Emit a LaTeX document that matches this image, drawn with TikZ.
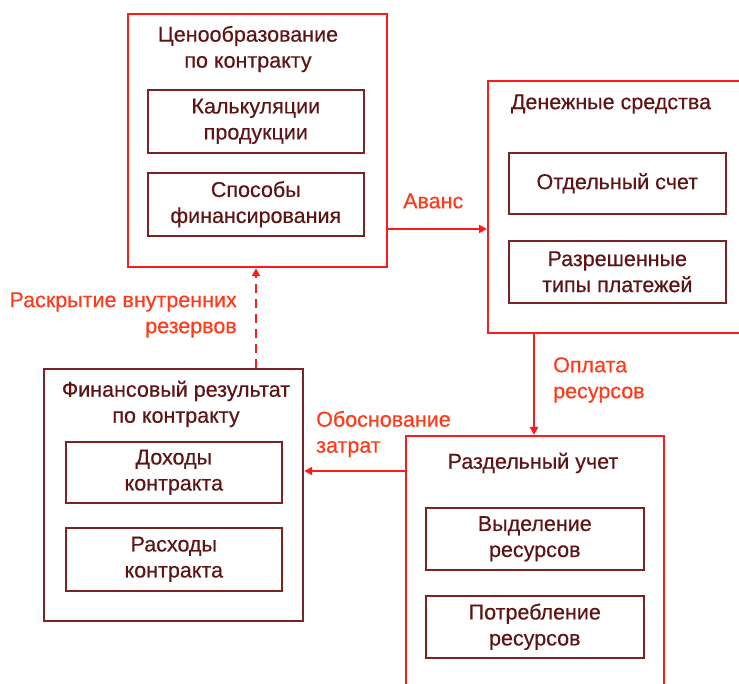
\documentclass[tikz,border=0pt]{standalone}
\usepackage{fontspec}
\setmainfont{Liberation Sans}[FakeBold=0.35]
\usetikzlibrary{arrows.meta}
\definecolor{boxred}{HTML}{FF1A1A}
\definecolor{darkbox}{HTML}{7A2424}
\definecolor{darktext}{HTML}{5E1414}
\definecolor{lblred}{HTML}{FF3A1A}
\tikzset{
  every node/.style={font=\fontsize{21.5}{26}\selectfont},
  redbox/.style={draw=boxred, line width=2.2pt, anchor=north west, inner sep=0pt},
  outerdark/.style={draw=darkbox, line width=2.2pt, anchor=north west, inner sep=0pt},
  innerbox/.style={draw=darkbox, line width=1.6pt, anchor=north west, inner sep=0pt, text=darktext, align=center},
  title/.style={text=darktext, align=center, inner sep=0pt},
  lbl/.style={text=lblred, inner sep=0pt},
  conn/.style={draw=boxred, line width=2.4pt, -{Triangle[length=8pt,width=8pt]}},
  dconn/.style={conn, dash pattern=on 9pt off 6pt}
}
\begin{document}
\begin{tikzpicture}[x=1pt,y=-1pt]
\useasboundingbox[fill=white] (0,0) rectangle (739,684);
% Box A
\node[redbox, minimum width=259pt, minimum height=253pt] (A) at (127,13) {};
\node[title] (At) at (248,49) {Ценообразование\\по контракту};
\node[innerbox, minimum width=216pt, minimum height=63pt] (A1) at (147,89) {};
\node[title] (A1t) at (A1.center) {Калькуляции\\продукции};
\node[innerbox, minimum width=216pt, minimum height=63pt] (A2) at (147,172) {};
\node[title] (A2t) at (A2.center) {Способы\\финансирования};
% Box B
\node[redbox, minimum width=270pt, minimum height=252pt] (B) at (487,80) {};
\node[title] (Bt) at (611,104) {Денежные средства};
\node[innerbox, minimum width=217pt, minimum height=61pt] (B1) at (508,152) {};
\node[title] (B1t) at (B1.center) {Отдельный счет};
\node[innerbox, minimum width=217pt, minimum height=62pt] (B2) at (508,240) {};
\node[title] (B2t) at (B2.center) {Разрешенные\\типы платежей};
% Box C
\node[redbox, minimum width=258pt, minimum height=280pt] (C) at (405,435) {};
\node[title] (Ct) at (533,463) {Раздельный учет};
\node[innerbox, minimum width=218pt, minimum height=62pt] (C1) at (425,507) {};
\node[title] (C1t) at (C1.center) {Выделение\\ресурсов};
\node[innerbox, minimum width=218pt, minimum height=62pt] (C2) at (425,595) {};
\node[title] (C2t) at (C2.center) {Потребление\\ресурсов};
% Box D
\node[outerdark, minimum width=259pt, minimum height=252pt] (D) at (43,368) {};
\node[title] (Dt) at (176,404) {Финансовый результат\\по контракту};
\node[innerbox, minimum width=216pt, minimum height=61pt] (D1) at (65,441) {};
\node[title] (D1t) at (D1.center) {Доходы\\контракта};
\node[innerbox, minimum width=216pt, minimum height=63pt] (D2) at (65,527) {};
\node[title] (D2t) at (D2.center) {Расходы\\контракта};
% connectors
\coordinate (yAB) at (0,229);
\coordinate (xBC) at (534,0);
\coordinate (yCD) at (0,471);
\coordinate (xDA) at (256,0);
\draw[conn] (A.east |- yAB) -- (B.west |- yAB);
\draw[conn] (B.south -| xBC) -- (C.north -| xBC);
\draw[conn] (C.west |- yCD) -- (D.east |- yCD);
\draw[dconn] (D.north -| xDA) -- (A.south -| xDA);
% labels
\node[lbl, anchor=west] (L1) at (403,201) {Аванс};
\node[lbl, anchor=west, align=left] (L2) at (553,380) {Оплата\\ресурсов};
\node[lbl, anchor=west, align=left] (L3) at (316,434) {Обоснование\\затрат};
\node[lbl, anchor=east, align=right] (L4) at (237,315) {Раскрытие внутренних\\резервов};
\end{tikzpicture}
\end{document}
